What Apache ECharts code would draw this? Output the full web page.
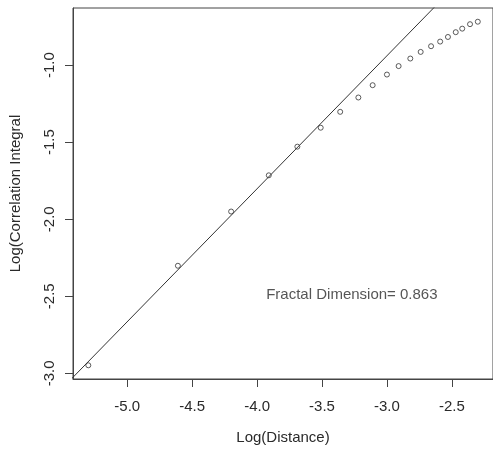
<!DOCTYPE html>
<html>
<head>
<meta charset="utf-8">
<script src="https://cdn.jsdelivr.net/npm/echarts@6/dist/echarts.min.js"></script>
<style>
html,body{margin:0;padding:0;background:#fff;}
#c{width:493px;height:451px;}
</style>
</head>
<body>
<div id="c"></div>
<script>
// Data
var logDistance = [-5.30, -4.61, -4.20, -3.91, -3.69, -3.51, -3.36, -3.22, -3.11, -3.00,
                   -2.91, -2.82, -2.74, -2.66, -2.59, -2.53, -2.47, -2.42, -2.36, -2.30];
var logCorr = [-2.948, -2.302, -1.950, -1.715, -1.529, -1.406, -1.303, -1.210, -1.130, -1.061,
               -1.006, -0.957, -0.914, -0.877, -0.847, -0.817, -0.786, -0.763, -0.734, -0.718];
var fitSlope = 0.863;
var fitIntercept = 1.65;
var xTicks = [-5.0, -4.5, -4.0, -3.5, -3.0, -2.5];
var yTicks = [-3.0, -2.5, -2.0, -1.5, -1.0];
var annotation = {x: -3.27, y: -2.49, text: 'Fractal Dimension= 0.863'};

var xMin = -5.418, xMax = -2.183, yMin = -3.037, yMax = -0.629;
var pts = logDistance.map(function (x, i) { return [x, logCorr[i]]; });
var fitLine = [[-6, fitSlope * -6 + fitIntercept], [-2, fitSlope * -2 + fitIntercept]];

var font = "'Liberation Sans', Arial, sans-serif";
var txt = '#2a2a2a';
var chart = echarts.init(document.getElementById('c'), null, {renderer: 'canvas'});
chart.setOption({
  animation: false,
  backgroundColor: '#fff',
  grid: {left: 72, top: 8, width: 423, height: 371, show: true, borderColor: '#444', borderWidth: 1, backgroundColor: 'transparent'},
  xAxis: {
    type: 'value', min: xMin, max: xMax,
    name: 'Log(Distance)', nameLocation: 'middle', nameGap: 51,
    nameTextStyle: {fontFamily: font, fontSize: 15, color: txt},
    axisLine: {show: true, lineStyle: {color: '#444', width: 1}},
    axisTick: {show: true, inside: false, length: 8, customValues: xTicks, lineStyle: {color: '#444'}},
    axisLabel: {customValues: xTicks, margin: 20, fontFamily: font, fontSize: 15, color: txt,
      formatter: function (v) { return v.toFixed(1); }},
    splitLine: {show: false}
  },
  yAxis: {
    type: 'value', min: yMin, max: yMax,
    name: 'Log(Correlation Integral', nameLocation: 'middle', nameGap: 50, nameRotate: 90,
    nameTextStyle: {fontFamily: font, fontSize: 15, color: txt},
    axisLine: {show: true, lineStyle: {color: '#444', width: 1}},
    axisTick: {show: true, inside: false, length: 8, customValues: yTicks, lineStyle: {color: '#444'}},
    axisLabel: {customValues: yTicks, rotate: 90, margin: 16, fontFamily: font, fontSize: 15, color: txt,
      formatter: function (v) { return v.toFixed(1); }},
    splitLine: {show: false}
  },
  series: [
    {
      type: 'line', data: fitLine, showSymbol: false, clip: true,
      lineStyle: {color: '#333', width: 1}, silent: true
    },
    {
      type: 'scatter', data: pts, symbol: 'circle', symbolSize: 5,
      itemStyle: {color: '#fff', borderColor: '#333', borderWidth: 1}
    },
    {
      type: 'scatter', data: [[annotation.x, annotation.y]], symbolSize: 0,
      label: {show: true, position: 'inside', formatter: annotation.text,
        fontFamily: font, fontSize: 15, color: txt}
    }
  ]
});
</script>
</body>
</html>
